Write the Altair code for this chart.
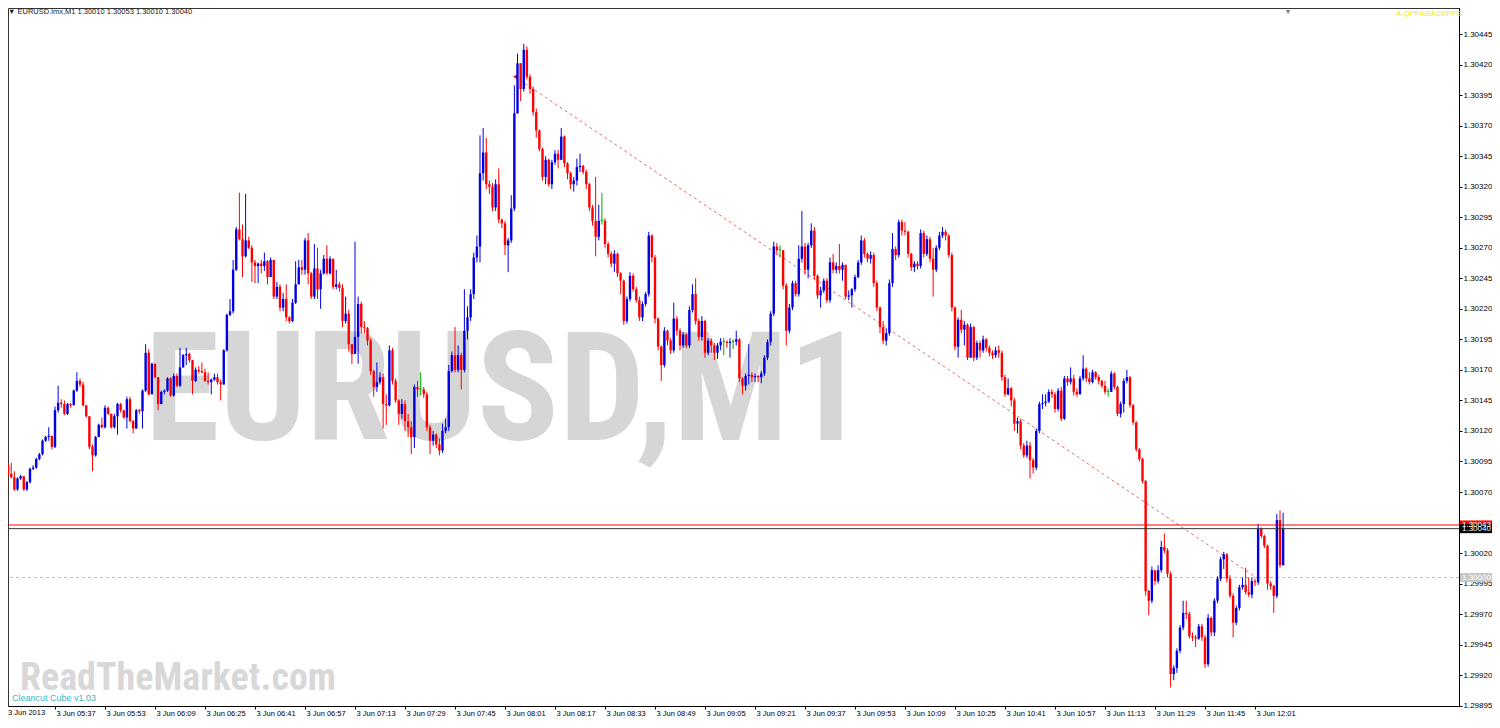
import altair as alt
import pandas as pd

# ---------------- data (prices in points above 1.29000) ----------------
BASE = 1.29
PT = 1e-5
first_open = 1098
closes = [1092,1085,1082,1072,1081,1083,1072,1078,1089,1090,1097,1101,1112,1115,1116,1107,1137,1143,1142,1134,
          1142,1141,1153,1161,1158,1141,1132,1107,1100,1115,1125,1123,1139,1134,1123,1132,1142,1137,1131,1146,
          1128,1122,1137,1136,1153,1184,1150,1175,1164,1142,1152,1153,1163,1149,1165,1157,1172,1182,1183,1178,
          1161,1170,1169,1168,1161,1160,1162,1164,1160,1158,1186,1215,1218,1252,1285,1277,1263,1276,1270,1258,
          1255,1257,1255,1259,1246,1260,1230,1238,1221,1228,1213,1210,1225,1240,1254,1252,1276,1249,1230,1253,
          1236,1249,1261,1249,1261,1238,1240,1237,1210,1216,1191,1183,1197,1224,1205,1204,1194,1169,1156,1160,
          1164,1142,1141,1186,1161,1145,1134,1142,1128,1123,1115,1156,1154,1154,1150,1123,1112,1117,1109,1104,
          1120,1123,1169,1182,1170,1182,1170,1202,1213,1232,1262,1271,1331,1348,1322,1320,1303,1322,1293,1290,
          1272,1276,1302,1380,1421,1400,1432,1410,1400,1381,1366,1351,1328,1342,1322,1340,1347,1342,1361,1339,
          1331,1322,1325,1336,1337,1332,1322,1303,1292,1279,1292,1292,1273,1265,1257,1265,1249,1243,1210,1228,
          1247,1236,1227,1213,1224,1232,1280,1262,1212,1189,1174,1202,1194,1186,1212,1202,1190,1199,1190,1219,
          1232,1210,1197,1210,1184,1194,1190,1184,1190,1193,1193,1192,1193,1193,1195,1163,1157,1165,1166,1164,
          1165,1164,1167,1180,1193,1216,1271,1268,1268,1239,1202,1221,1241,1232,1261,1271,1252,1272,1284,1247,
          1231,1235,1243,1227,1258,1252,1255,1252,1256,1230,1231,1236,1246,1258,1276,1265,1261,1264,1241,1221,
          1205,1194,1200,1241,1269,1264,1291,1284,1283,1265,1254,1257,1255,1282,1265,1277,1261,1252,1270,1280,
          1283,1280,1264,1221,1189,1211,1203,1207,1180,1205,1180,1192,1186,1195,1188,1184,1182,1186,1184,1164,
          1150,1155,1145,1126,1128,1108,1100,1108,1096,1090,1120,1142,1143,1144,1152,1150,1138,1153,1130,1163,
          1160,1163,1152,1150,1163,1171,1163,1160,1168,1164,1161,1157,1152,1152,1167,1156,1134,1142,1161,1164,
          1141,1127,1105,1097,1079,989,981,1006,997,1006,1025,1022,1003,921,926,940,959,971,970,952,
          951,950,960,951,929,967,955,981,999,1015,1019,999,985,963,975,992,994,988,986,997,
          996,1040,1034,1026,995,993,985,1047,1010,1040]
highs = [1101,1094,1094,1087,1082,1084,1083,1079,1090,1092,1098,1102,1113,1116,1123,1116,1140,1157,1146,1145,
         1143,1143,1154,1168,1163,1160,1141,1132,1109,1116,1126,1131,1141,1140,1134,1134,1143,1143,1137,1148,
         1148,1129,1138,1138,1154,1191,1187,1176,1175,1164,1153,1154,1164,1164,1167,1167,1188,1183,1188,1184,
         1178,1172,1173,1176,1171,1168,1163,1167,1167,1162,1187,1216,1228,1260,1287,1315,1289,1314,1279,1272,
         1260,1258,1260,1266,1260,1262,1258,1242,1240,1233,1240,1214,1228,1259,1260,1260,1278,1282,1250,1273,
         1270,1252,1264,1272,1263,1260,1252,1242,1240,1230,1219,1191,1275,1230,1226,1210,1205,1196,1170,1176,
         1168,1167,1150,1190,1188,1163,1146,1146,1145,1134,1128,1158,1161,1168,1156,1152,1125,1120,1118,1114,
         1126,1130,1174,1185,1205,1190,1184,1236,1222,1236,1266,1280,1362,1368,1360,1325,1323,1326,1335,1294,
         1292,1278,1313,1403,1429,1420,1437,1435,1412,1402,1384,1367,1352,1345,1343,1342,1350,1350,1368,1362,
         1340,1332,1328,1343,1347,1338,1334,1323,1305,1328,1305,1315,1294,1275,1267,1268,1266,1250,1244,1230,
         1250,1249,1238,1230,1226,1234,1283,1281,1264,1213,1190,1205,1203,1196,1225,1214,1204,1201,1200,1222,
         1240,1245,1212,1214,1211,1196,1196,1192,1192,1196,1196,1194,1196,1195,1202,1196,1164,1167,1191,1168,
         1167,1166,1169,1182,1195,1218,1275,1274,1272,1268,1241,1224,1243,1243,1272,1300,1274,1274,1290,1287,
         1248,1238,1245,1245,1262,1265,1258,1273,1258,1256,1235,1237,1248,1260,1280,1278,1266,1267,1266,1243,
         1222,1210,1204,1244,1282,1271,1293,1293,1291,1284,1266,1259,1259,1285,1284,1280,1279,1270,1272,1283,
         1287,1285,1281,1266,1222,1213,1219,1210,1208,1208,1206,1194,1194,1198,1196,1190,1186,1189,1190,1186,
         1166,1163,1156,1147,1131,1130,1110,1112,1111,1098,1122,1144,1150,1150,1154,1154,1152,1155,1156,1165,
         1165,1172,1166,1155,1165,1182,1172,1168,1170,1169,1166,1162,1161,1155,1169,1168,1157,1144,1163,1170,
         1165,1142,1128,1106,1098,1080,990,1009,1006,1010,1030,1036,1024,1005,928,942,961,981,981,972,
         955,953,962,962,953,970,968,983,1001,1017,1021,1020,1002,987,977,994,1000,1008,1000,1000,
         999,1044,1041,1035,1027,997,994,1052,1055,1053]
lows = [1085,1083,1081,1071,1071,1080,1071,1071,1077,1088,1089,1096,1100,1111,1112,1105,1106,1135,1139,1133,
        1133,1139,1141,1152,1156,1140,1131,1105,1087,1099,1115,1122,1122,1133,1122,1122,1117,1135,1130,1122,
        1127,1118,1122,1134,1122,1152,1149,1151,1163,1137,1143,1150,1152,1148,1148,1156,1156,1172,1174,1176,
        1150,1160,1167,1167,1160,1158,1150,1161,1158,1145,1158,1185,1214,1216,1251,1276,1246,1262,1269,1242,
        1241,1241,1249,1251,1240,1246,1228,1228,1218,1218,1210,1208,1209,1224,1240,1248,1248,1240,1228,1228,
        1228,1220,1248,1248,1248,1236,1236,1234,1205,1208,1185,1175,1183,1175,1200,1200,1190,1166,1148,1152,
        1158,1122,1125,1140,1158,1143,1125,1130,1120,1115,1101,1106,1148,1149,1147,1120,1101,1108,1106,1100,
        1102,1118,1120,1168,1168,1168,1154,1168,1195,1210,1228,1258,1258,1325,1318,1314,1300,1300,1290,1286,
        1264,1250,1274,1300,1381,1390,1398,1408,1396,1378,1360,1349,1325,1322,1320,1318,1338,1335,1342,1336,
        1326,1318,1316,1321,1332,1330,1318,1300,1288,1263,1276,1289,1270,1262,1254,1250,1246,1232,1207,1208,
        1226,1234,1225,1210,1210,1222,1230,1258,1208,1186,1161,1172,1190,1183,1184,1198,1186,1188,1188,1188,
        1217,1207,1194,1194,1180,1182,1184,1178,1179,1186,1182,1188,1180,1187,1190,1160,1150,1153,1158,1160,
        1160,1160,1159,1165,1178,1190,1214,1264,1262,1236,1190,1200,1219,1230,1230,1258,1248,1245,1270,1244,
        1228,1221,1233,1225,1225,1249,1249,1249,1243,1228,1227,1221,1234,1245,1256,1262,1258,1257,1238,1218,
        1200,1191,1190,1198,1238,1260,1262,1280,1280,1262,1251,1250,1252,1253,1262,1263,1258,1230,1250,1268,
        1278,1276,1262,1218,1186,1180,1200,1190,1178,1180,1177,1178,1180,1184,1185,1181,1179,1180,1180,1161,
        1148,1149,1140,1120,1118,1105,1098,1098,1081,1085,1088,1118,1138,1140,1143,1147,1135,1136,1128,1129,
        1157,1158,1149,1148,1150,1161,1160,1158,1159,1162,1158,1155,1150,1148,1154,1154,1132,1131,1135,1159,
        1139,1125,1103,1095,1077,985,969,979,994,995,1004,1020,1000,910,916,922,938,957,966,950,
        948,943,949,948,926,927,952,952,979,997,1007,996,983,951,961,973,990,986,984,983,
        993,994,1032,1024,990,990,971,983,1008,1010]

time_labels = ["3 Jun 2013", "3 Jun 05:37", "3 Jun 05:53", "3 Jun 06:09", "3 Jun 06:25", "3 Jun 06:41",
               "3 Jun 06:57", "3 Jun 07:13", "3 Jun 07:29", "3 Jun 07:45", "3 Jun 08:01", "3 Jun 08:17",
               "3 Jun 08:33", "3 Jun 08:49", "3 Jun 09:05", "3 Jun 09:21", "3 Jun 09:37", "3 Jun 09:53",
               "3 Jun 10:09", "3 Jun 10:25", "3 Jun 10:41", "3 Jun 10:57", "3 Jun 11:13", "3 Jun 11:29",
               "3 Jun 11:45", "3 Jun 12:01"]
label_step = 16
price_ticks = [1.30445, 1.30420, 1.30395, 1.30370, 1.30345, 1.30320, 1.30295, 1.30270, 1.30245, 1.30220,
               1.30195, 1.30170, 1.30145, 1.30120, 1.30095, 1.30070, 1.30020, 1.29995, 1.29970,
               1.29945, 1.29920, 1.29895]
ask_price = 1.30043
bid_price = 1.30040
round_level = 1.30000
trend_i = [163.2, 401.0]
trend_p = [1.30410, 1.29999]
header = "\u25BC EURUSD.lmx,M1  1.30010 1.30053 1.30010 1.30040"

# ---------------- build table ----------------
opens = [first_open] + closes[:-1]
rows = []
for i, (o, c, h, l) in enumerate(zip(opens, closes, highs, lows)):
    h = max(h, o, c)
    l = min(l, o, c)
    d = "up" if c > o else ("down" if c < o else "doji")
    top, bot = max(o, c), min(o, c)
    if top - bot < 1:
        top = bot + 0.8
    rows.append(dict(i=i, h=BASE + h * PT, l=BASE + l * PT, top=BASE + top * PT,
                     bot=BASE + bot * PT, d=d))
df = pd.DataFrame(rows)

W, H = 1451, 698
xs = alt.Scale(domain=[0.96, 465.28], nice=False, zero=False, padding=0)
ys = alt.Scale(domain=[1.2989480, 1.3046629], nice=False, zero=False, padding=0)
cs = alt.Scale(domain=["up", "down", "doji"], range=["#0000E0", "#FF0000", "#00B000"])

lab_arr = "[" + ",".join("'%s'" % t for t in time_labels) + "]"
xaxis = alt.Axis(values=list(range(label_step, label_step * len(time_labels), label_step)),
                 labelExpr=lab_arr + "[round(datum.value/%d)]" % label_step,
                 labelAlign="left", labelBaseline="top", labelPadding=0, labelOffset=1,
                 labelFont="Liberation Sans", labelFontSize=7.5, labelColor="#000",
                 tickSize=3, tickColor="#000", domainColor="#000", grid=False, title=None,
                 labelOverlap=False, labelFlush=False)
yaxis = alt.Axis(orient="right", values=price_ticks, format=".5f",
                 labelFont="Liberation Sans", labelFontSize=8, labelColor="#000", labelPadding=1,
                 tickSize=3, tickColor="#000", domainColor="#000", grid=False, title=None,
                 labelOverlap=False, labelFlush=False)

base = alt.Chart(df)

def txt(t, **kw):
    return alt.Chart(pd.DataFrame({"t": [t]})).mark_text(**kw)

# watermarks / texts (behind candles)
wm = txt("EURUSD,M1", font="Roboto Condensed, Liberation Sans", fontWeight="bold", fontSize=152,
         color="#D6D6D6", align="center", baseline="alphabetic").encode(
    x=alt.value(497), y=alt.value(432), text="t:N")
rtm = txt("ReadTheMarket.com", font="Roboto Condensed, Liberation Sans", fontWeight="bold", fontSize=38,
          color="#D8D8D8", align="left", baseline="alphabetic").encode(
    x=alt.value(12), y=alt.value(682), text="t:N")
cube = txt("Cleancut Cube v1.03", font="Liberation Sans", fontSize=9, color="#3FB5BD",
           align="left", baseline="alphabetic").encode(x=alt.value(4), y=alt.value(693), text="t:N")
head = txt(header, font="Liberation Sans", fontSize=7.5, color="#222",
           align="left", baseline="alphabetic").encode(x=alt.value(0), y=alt.value(6), text="t:N")
yel = txt("A.QPPABASBPPS", font="Liberation Sans", fontSize=8, color="#F0F000",
          align="left", baseline="alphabetic").encode(x=alt.value(1388), y=alt.value(8), text="t:N")
shift = txt("\u25BC", fontSize=7, color="#777", align="center", baseline="top").encode(
    x=alt.value(1280), y=alt.value(0), text="t:N")
first_lab = txt(time_labels[0], font="Liberation Sans", fontSize=7.5, color="#000",
                align="left", baseline="top").encode(x=alt.value(0), y=alt.value(H + 3), text="t:N")

# level lines
round_line = alt.Chart(pd.DataFrame({"p": [round_level]})).mark_rule(
    color="#BBBBBB", strokeDash=[3, 3], strokeWidth=1).encode(y=alt.Y("p:Q", scale=ys, axis=yaxis))
ask_line = alt.Chart(pd.DataFrame({"p": [ask_price]})).mark_rule(color="#FF0000", strokeWidth=1).encode(
    y=alt.Y("p:Q", scale=ys, axis=yaxis))
bid_line = alt.Chart(pd.DataFrame({"p": [bid_price]})).mark_rule(color="#333333", strokeWidth=1).encode(
    y=alt.Y("p:Q", scale=ys, axis=yaxis))

trend = alt.Chart(pd.DataFrame({"i": trend_i, "p": trend_p})).mark_line(
    color="#E86A6A", strokeDash=[3, 3], strokeWidth=1).encode(
    x=alt.X("i:Q", scale=xs, axis=xaxis), y=alt.Y("p:Q", scale=ys, axis=yaxis))
anchor = alt.Chart(pd.DataFrame({"i": trend_i[:1], "p": trend_p[:1]})).mark_point(
    shape="triangle-left", filled=True, color="#FF0000", size=22, opacity=1).encode(
    x=alt.X("i:Q", scale=xs, axis=xaxis), y=alt.Y("p:Q", scale=ys, axis=yaxis))

wicks = base.mark_rule(strokeWidth=1).encode(
    x=alt.X("i:Q", scale=xs, axis=xaxis),
    y=alt.Y("l:Q", scale=ys, axis=yaxis),
    y2="h:Q",
    color=alt.Color("d:N", scale=cs, legend=None))
bodies = base.mark_bar(size=2.4).encode(
    x=alt.X("i:Q", scale=xs, axis=xaxis),
    y=alt.Y("bot:Q", scale=ys, axis=yaxis),
    y2="top:Q",
    color=alt.Color("d:N", scale=cs, legend=None))

# price boxes on the right axis
box_df = pd.DataFrame({"p": [round_level, ask_price, bid_price],
                       "t": ["1.30000", "1.30043", "1.30040"],
                       "c": ["#C8C8C8", "#FF0000", "#000000"]})
box_df["p0"] = box_df["p"] - 0.000037
box_df["p1"] = box_df["p"] + 0.000037
boxes = alt.Chart(box_df).mark_rect().encode(
    x=alt.value(W + 1), x2=alt.value(W + 33),
    y=alt.Y("p0:Q", scale=ys, axis=yaxis), y2="p1:Q",
    color=alt.Color("c:N", scale=None))
box_txt = alt.Chart(box_df).mark_text(font="Liberation Sans", fontSize=8, color="#FFFFFF",
                                      align="left", baseline="middle").encode(
    x=alt.value(W + 3), y=alt.Y("p:Q", scale=ys, axis=yaxis), text="t:N")

chart = alt.layer(
    wm, rtm, cube, head, yel, shift, first_lab,
    round_line, trend, anchor, wicks, bodies, ask_line, bid_line, boxes, box_txt
).properties(
    width=W, height=H,
    autosize=alt.AutoSizeParams(type="none"),
    padding={"left": 0, "top": 0, "right": 33, "bottom": 10},
    background="#FFFFFF"
).configure_view(stroke="#333333", strokeWidth=1).configure_axis(labelOverlap=False)

chart.save("out.html", embed_options={"renderer": "svg", "actions": False})
